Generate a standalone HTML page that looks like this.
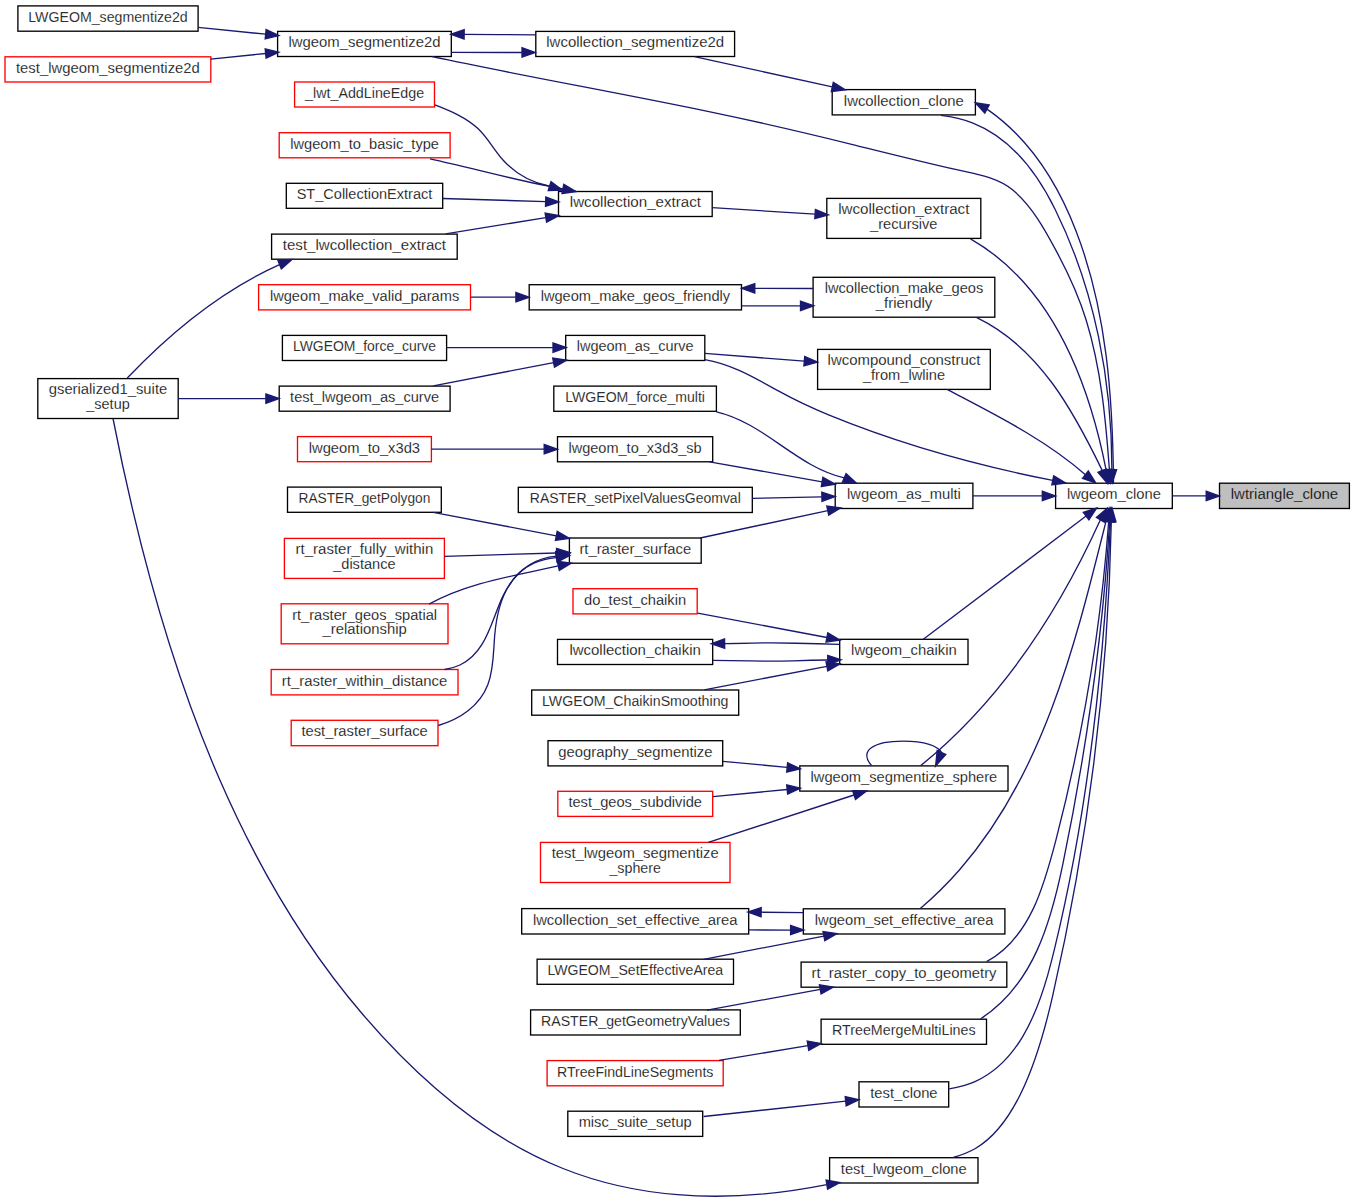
<!DOCTYPE html>
<html><head><meta charset="utf-8"><title>lwtriangle_clone caller graph</title>
<style>
html,body{margin:0;padding:0;background:#fff;}
svg{display:block;}
text{font-family:"Liberation Sans",sans-serif;font-size:14.0px;text-anchor:middle;fill:#000;stroke:#fff;stroke-width:0.35px;stroke-opacity:0.6;}
.e path{fill:none;stroke:#191970;stroke-width:1.33;}
.e polygon{fill:#191970;stroke:#191970;stroke-width:1.33;}
.n rect{stroke-width:1.33;}
</style></head><body>
<svg width="1355" height="1199" viewBox="0 0 1355 1199">
<rect x="0" y="0" width="1355" height="1199" fill="#fff"/>
<g class="n">
<rect x="17.9" y="5.9" width="180.2" height="25.3" fill="#ffffff" stroke="#000000"/>
<text x="108.0" y="21.9" textLength="159.5" lengthAdjust="spacingAndGlyphs">LWGEOM_segmentize2d</text>
<rect x="5.0" y="56.8" width="205.8" height="25.2" fill="#ffffff" stroke="#ff0000"/>
<text x="107.9" y="72.8" textLength="183.8" lengthAdjust="spacingAndGlyphs">test_lwgeom_segmentize2d</text>
<rect x="37.8" y="378.6" width="140.4" height="39.9" fill="#ffffff" stroke="#000000"/>
<text x="108.0" y="394.4" textLength="118.5" lengthAdjust="spacingAndGlyphs">gserialized1_suite</text>
<text x="108.0" y="408.9" textLength="43.5" lengthAdjust="spacingAndGlyphs">_setup</text>
<rect x="277.6" y="31.4" width="173.7" height="25.1" fill="#ffffff" stroke="#000000"/>
<text x="364.5" y="47.4" textLength="151.9" lengthAdjust="spacingAndGlyphs">lwgeom_segmentize2d</text>
<rect x="294.6" y="82.0" width="139.9" height="25.0" fill="#ffffff" stroke="#ff0000"/>
<text x="364.6" y="97.9" textLength="119.1" lengthAdjust="spacingAndGlyphs">_lwt_AddLineEdge</text>
<rect x="279.2" y="132.7" width="170.9" height="25.1" fill="#ffffff" stroke="#ff0000"/>
<text x="364.6" y="148.7" textLength="148.7" lengthAdjust="spacingAndGlyphs">lwgeom_to_basic_type</text>
<rect x="286.3" y="183.3" width="156.4" height="25.0" fill="#ffffff" stroke="#000000"/>
<text x="364.5" y="199.2" textLength="135.6" lengthAdjust="spacingAndGlyphs">ST_CollectionExtract</text>
<rect x="271.6" y="234.1" width="185.6" height="25.1" fill="#ffffff" stroke="#000000"/>
<text x="364.4" y="250.0" textLength="163.2" lengthAdjust="spacingAndGlyphs">test_lwcollection_extract</text>
<rect x="258.6" y="284.7" width="211.9" height="25.2" fill="#ffffff" stroke="#ff0000"/>
<text x="364.6" y="300.7" textLength="189.3" lengthAdjust="spacingAndGlyphs">lwgeom_make_valid_params</text>
<rect x="282.4" y="335.4" width="164.2" height="25.1" fill="#ffffff" stroke="#000000"/>
<text x="364.5" y="351.3" textLength="143.0" lengthAdjust="spacingAndGlyphs">LWGEOM_force_curve</text>
<rect x="279.2" y="386.1" width="170.9" height="25.1" fill="#ffffff" stroke="#000000"/>
<text x="364.6" y="402.0" textLength="149.0" lengthAdjust="spacingAndGlyphs">test_lwgeom_as_curve</text>
<rect x="297.5" y="436.6" width="133.9" height="25.1" fill="#ffffff" stroke="#ff0000"/>
<text x="364.4" y="452.5" textLength="111.3" lengthAdjust="spacingAndGlyphs">lwgeom_to_x3d3</text>
<rect x="287.5" y="487.1" width="153.8" height="25.2" fill="#ffffff" stroke="#000000"/>
<text x="364.4" y="503.1" textLength="131.8" lengthAdjust="spacingAndGlyphs">RASTER_getPolygon</text>
<rect x="284.4" y="538.4" width="160.0" height="40.0" fill="#ffffff" stroke="#ff0000"/>
<text x="364.4" y="554.3" textLength="137.7" lengthAdjust="spacingAndGlyphs">rt_raster_fully_within</text>
<text x="364.4" y="568.7" textLength="62.5" lengthAdjust="spacingAndGlyphs">_distance</text>
<rect x="281.2" y="603.8" width="166.8" height="40.0" fill="#ffffff" stroke="#ff0000"/>
<text x="364.6" y="619.7" textLength="144.9" lengthAdjust="spacingAndGlyphs">rt_raster_geos_spatial</text>
<text x="364.6" y="634.1" textLength="84.2" lengthAdjust="spacingAndGlyphs">_relationship</text>
<rect x="271.2" y="669.5" width="186.8" height="25.4" fill="#ffffff" stroke="#ff0000"/>
<text x="364.6" y="685.6" textLength="165.5" lengthAdjust="spacingAndGlyphs">rt_raster_within_distance</text>
<rect x="291.2" y="720.3" width="146.8" height="25.4" fill="#ffffff" stroke="#ff0000"/>
<text x="364.6" y="736.4" textLength="126.4" lengthAdjust="spacingAndGlyphs">test_raster_surface</text>
<rect x="535.8" y="31.4" width="198.8" height="25.1" fill="#ffffff" stroke="#000000"/>
<text x="635.2" y="47.4" textLength="177.8" lengthAdjust="spacingAndGlyphs">lwcollection_segmentize2d</text>
<rect x="558.5" y="191.5" width="153.7" height="25.0" fill="#ffffff" stroke="#000000"/>
<text x="635.4" y="207.4" textLength="131.2" lengthAdjust="spacingAndGlyphs">lwcollection_extract</text>
<rect x="529.2" y="284.7" width="212.3" height="25.2" fill="#ffffff" stroke="#000000"/>
<text x="635.4" y="300.7" textLength="189.5" lengthAdjust="spacingAndGlyphs">lwgeom_make_geos_friendly</text>
<rect x="565.7" y="335.4" width="139.1" height="25.1" fill="#ffffff" stroke="#000000"/>
<text x="635.2" y="351.3" textLength="117.0" lengthAdjust="spacingAndGlyphs">lwgeom_as_curve</text>
<rect x="553.8" y="386.1" width="162.6" height="25.2" fill="#ffffff" stroke="#000000"/>
<text x="635.1" y="402.1" textLength="139.7" lengthAdjust="spacingAndGlyphs">LWGEOM_force_multi</text>
<rect x="557.5" y="436.7" width="155.2" height="25.1" fill="#ffffff" stroke="#000000"/>
<text x="635.1" y="452.6" textLength="133.2" lengthAdjust="spacingAndGlyphs">lwgeom_to_x3d3_sb</text>
<rect x="518.3" y="487.3" width="234.0" height="25.2" fill="#ffffff" stroke="#000000"/>
<text x="635.3" y="503.3" textLength="210.9" lengthAdjust="spacingAndGlyphs">RASTER_setPixelValuesGeomval</text>
<rect x="569.4" y="538.0" width="131.8" height="25.2" fill="#ffffff" stroke="#000000"/>
<text x="635.3" y="554.0" textLength="111.7" lengthAdjust="spacingAndGlyphs">rt_raster_surface</text>
<rect x="573.0" y="588.7" width="124.2" height="25.2" fill="#ffffff" stroke="#ff0000"/>
<text x="635.1" y="604.7" textLength="102.1" lengthAdjust="spacingAndGlyphs">do_test_chaikin</text>
<rect x="557.5" y="639.4" width="155.2" height="25.1" fill="#ffffff" stroke="#000000"/>
<text x="635.1" y="655.4" textLength="131.4" lengthAdjust="spacingAndGlyphs">lwcollection_chaikin</text>
<rect x="531.7" y="690.0" width="207.0" height="25.2" fill="#ffffff" stroke="#000000"/>
<text x="635.2" y="706.0" textLength="186.5" lengthAdjust="spacingAndGlyphs">LWGEOM_ChaikinSmoothing</text>
<rect x="548.0" y="740.7" width="174.7" height="25.2" fill="#ffffff" stroke="#000000"/>
<text x="635.4" y="756.7" textLength="154.2" lengthAdjust="spacingAndGlyphs">geography_segmentize</text>
<rect x="557.8" y="791.3" width="154.9" height="25.1" fill="#ffffff" stroke="#ff0000"/>
<text x="635.2" y="807.2" textLength="133.6" lengthAdjust="spacingAndGlyphs">test_geos_subdivide</text>
<rect x="540.5" y="842.4" width="189.5" height="40.1" fill="#ffffff" stroke="#ff0000"/>
<text x="635.2" y="858.4" textLength="167.1" lengthAdjust="spacingAndGlyphs">test_lwgeom_segmentize</text>
<text x="635.2" y="872.8" textLength="51.6" lengthAdjust="spacingAndGlyphs">_sphere</text>
<rect x="521.7" y="908.6" width="227.0" height="25.4" fill="#ffffff" stroke="#000000"/>
<text x="635.2" y="924.7" textLength="204.6" lengthAdjust="spacingAndGlyphs">lwcollection_set_effective_area</text>
<rect x="537.1" y="959.2" width="196.4" height="25.1" fill="#ffffff" stroke="#000000"/>
<text x="635.3" y="975.1" textLength="175.8" lengthAdjust="spacingAndGlyphs">LWGEOM_SetEffectiveArea</text>
<rect x="530.6" y="1009.9" width="209.7" height="25.1" fill="#ffffff" stroke="#000000"/>
<text x="635.5" y="1025.9" textLength="188.8" lengthAdjust="spacingAndGlyphs">RASTER_getGeometryValues</text>
<rect x="547.1" y="1060.6" width="176.1" height="25.2" fill="#ffffff" stroke="#ff0000"/>
<text x="635.2" y="1076.6" textLength="156.5" lengthAdjust="spacingAndGlyphs">RTreeFindLineSegments</text>
<rect x="567.8" y="1111.2" width="134.9" height="25.2" fill="#ffffff" stroke="#000000"/>
<text x="635.2" y="1127.2" textLength="113.0" lengthAdjust="spacingAndGlyphs">misc_suite_setup</text>
<rect x="832.2" y="89.6" width="143.2" height="25.3" fill="#ffffff" stroke="#000000"/>
<text x="903.8" y="105.7" textLength="119.9" lengthAdjust="spacingAndGlyphs">lwcollection_clone</text>
<rect x="826.8" y="198.4" width="154.0" height="40.0" fill="#ffffff" stroke="#000000"/>
<text x="903.8" y="214.3" textLength="131.2" lengthAdjust="spacingAndGlyphs">lwcollection_extract</text>
<text x="903.8" y="228.7" textLength="67.4" lengthAdjust="spacingAndGlyphs">_recursive</text>
<rect x="813.1" y="277.3" width="181.7" height="39.9" fill="#ffffff" stroke="#000000"/>
<text x="904.0" y="293.1" textLength="158.7" lengthAdjust="spacingAndGlyphs">lwcollection_make_geos</text>
<text x="904.0" y="307.6" textLength="56.7" lengthAdjust="spacingAndGlyphs">_friendly</text>
<rect x="817.6" y="349.4" width="172.7" height="40.0" fill="#ffffff" stroke="#000000"/>
<text x="904.0" y="365.3" textLength="152.8" lengthAdjust="spacingAndGlyphs">lwcompound_construct</text>
<text x="904.0" y="379.7" textLength="82.2" lengthAdjust="spacingAndGlyphs">_from_lwline</text>
<rect x="835.2" y="483.2" width="137.7" height="25.3" fill="#ffffff" stroke="#000000"/>
<text x="904.0" y="499.2" textLength="113.8" lengthAdjust="spacingAndGlyphs">lwgeom_as_multi</text>
<rect x="839.7" y="639.3" width="128.3" height="25.2" fill="#ffffff" stroke="#000000"/>
<text x="903.9" y="655.3" textLength="105.6" lengthAdjust="spacingAndGlyphs">lwgeom_chaikin</text>
<rect x="799.8" y="765.9" width="208.2" height="25.2" fill="#ffffff" stroke="#000000"/>
<text x="903.9" y="781.9" textLength="186.7" lengthAdjust="spacingAndGlyphs">lwgeom_segmentize_sphere</text>
<rect x="803.3" y="908.8" width="201.6" height="25.2" fill="#ffffff" stroke="#000000"/>
<text x="904.1" y="924.8" textLength="178.7" lengthAdjust="spacingAndGlyphs">lwgeom_set_effective_area</text>
<rect x="801.1" y="962.1" width="205.7" height="25.1" fill="#ffffff" stroke="#000000"/>
<text x="904.0" y="978.1" textLength="184.9" lengthAdjust="spacingAndGlyphs">rt_raster_copy_to_geometry</text>
<rect x="821.1" y="1019.2" width="165.4" height="25.1" fill="#ffffff" stroke="#000000"/>
<text x="903.8" y="1035.2" textLength="143.6" lengthAdjust="spacingAndGlyphs">RTreeMergeMultiLines</text>
<rect x="859.0" y="1081.8" width="89.7" height="25.2" fill="#ffffff" stroke="#000000"/>
<text x="903.9" y="1097.8" textLength="67.4" lengthAdjust="spacingAndGlyphs">test_clone</text>
<rect x="829.6" y="1157.7" width="148.4" height="25.3" fill="#ffffff" stroke="#000000"/>
<text x="903.8" y="1173.8" textLength="125.9" lengthAdjust="spacingAndGlyphs">test_lwgeom_clone</text>
<rect x="1055.6" y="483.2" width="116.7" height="25.3" fill="#ffffff" stroke="#000000"/>
<text x="1113.9" y="499.2" textLength="94.0" lengthAdjust="spacingAndGlyphs">lwgeom_clone</text>
<rect x="1219.5" y="483.2" width="129.9" height="25.3" fill="#bfbfbf" stroke="#000000"/>
<text x="1284.5" y="499.2" textLength="107.4" lengthAdjust="spacingAndGlyphs" style="stroke:#bfbfbf">lwtriangle_clone</text>
</g>
<g class="e">
<path d="M198.1,27.3 L265.6,34.2"/>
<polygon points="265.2,38.9 278.9,35.6 266.1,29.6"/>
<path d="M210.7,59.1 L265.6,53.5"/>
<polygon points="266.1,58.2 278.9,52.2 265.2,48.9"/>
<path d="M451.5,52.3 L522.0,52.5"/>
<polygon points="522.0,57.1 535.3,52.5 522.0,47.8"/>
<path d="M535.3,34.9 C488.0,34.5 511.8,34.7 464.1,34.4"/>
<polygon points="464.2,29.7 450.8,34.3 464.1,39.1"/>
<path d="M694.4,56.7 L832.3,86.9"/>
<polygon points="831.3,91.5 845.3,89.8 833.3,82.4"/>
<path d="M432.2,56.7 C523.4,76.0 615.2,92.2 706.5,111.1 C755.8,121.3 804.8,132.7 853.7,144.8 C888.0,153.3 922.3,161.9 956.7,169.7 C975.8,174.0 997.3,177.1 1012.8,190.0 C1032.0,206.1 1044.9,229.6 1056.5,251.4 C1068.4,273.6 1078.9,296.4 1086.3,320.5 C1101.1,368.9 1105.7,419.5 1109.4,469.7"/>
<polygon points="1104.7,470.0 1110.3,483.0 1114.0,469.4"/>
<path d="M940.9,115.4 C951.9,116.7 962.7,119.0 973.0,123.1 C1011.9,138.4 1037.5,173.5 1055.3,209.7 C1094.8,289.8 1112.0,380.9 1111.9,469.7"/>
<polygon points="1107.2,469.8 1112.2,483.0 1116.6,469.6"/>
<path d="M1113.5,483.0 C1112.8,398.3 1106.9,311.2 1076.2,231.4 C1057.8,183.4 1029.9,138.7 987.0,109.1"/>
<polygon points="989.2,104.9 975.2,102.8 984.8,113.2"/>
<path d="M435.0,104.9 C450.3,110.9 466.1,117.3 478.2,128.8 C487.9,138.0 494.1,150.1 503.0,160.0 C515.4,173.8 531.5,182.6 549.6,186.2"/>
<polygon points="548.2,190.6 562.3,190.2 551.0,181.7"/>
<path d="M430.0,158.8 C474.4,168.5 518.1,181.0 562.9,188.9"/>
<polygon points="562.0,193.5 576.0,191.5 563.8,184.3"/>
<path d="M442.8,198.5 L545.7,201.6"/>
<polygon points="545.5,206.3 559.0,202.0 545.8,196.9"/>
<path d="M445.6,233.9 L545.8,217.6"/>
<polygon points="546.6,222.2 559.0,215.5 545.1,213.0"/>
<path d="M712.2,207.7 L815.1,214.1"/>
<polygon points="814.8,218.7 828.4,214.9 815.4,209.4"/>
<path d="M970.5,238.8 C1052.4,285.8 1088.7,381.8 1106.1,469.9"/>
<polygon points="1101.5,470.8 1108.6,483.0 1110.7,469.0"/>
<path d="M127.3,378.0 C171.1,331.9 221.2,290.8 279.5,264.6"/>
<polygon points="281.3,268.9 291.9,259.6 277.8,260.2"/>
<path d="M470.5,297.2 L515.9,297.2"/>
<polygon points="515.9,301.9 529.2,297.2 515.9,292.5"/>
<path d="M741.5,305.9 L800.5,305.8"/>
<polygon points="800.5,310.5 813.8,305.8 800.5,301.1"/>
<path d="M813.1,288.5 L754.8,288.3"/>
<polygon points="754.8,283.7 741.5,288.3 754.8,293.0"/>
<path d="M976.8,317.6 C1039.1,347.5 1073.5,411.1 1102.3,470.6"/>
<polygon points="1098.0,472.3 1107.2,483.0 1106.6,468.9"/>
<path d="M446.6,347.6 L553.0,347.6"/>
<polygon points="553.0,352.3 566.3,347.6 553.0,342.9"/>
<path d="M433.3,385.9 L553.6,362.6"/>
<polygon points="554.5,367.2 566.7,360.1 552.7,358.0"/>
<path d="M178.2,398.6 L265.9,398.6"/>
<polygon points="265.9,403.3 279.2,398.6 265.9,393.9"/>
<path d="M704.8,353.4 L804.3,361.2"/>
<polygon points="803.9,365.8 817.6,362.2 804.7,356.5"/>
<path d="M704.8,359.6 C731.9,364.1 755.1,378.1 778.8,391.2 C795.1,400.2 812.0,408.1 829.2,415.2 C901.1,444.6 976.6,465.5 1052.7,480.4"/>
<polygon points="1051.8,484.9 1065.8,483.0 1053.7,475.8"/>
<path d="M947.0,389.4 C994.9,414.7 1044.3,438.7 1085.4,474.7"/>
<polygon points="1082.5,478.4 1095.8,483.0 1088.3,471.0"/>
<path d="M716.4,411.8 C764.5,422.8 796.2,466.8 844.3,477.9"/>
<polygon points="842.4,482.2 856.5,483.2 846.1,473.6"/>
<path d="M431.4,449.2 L544.2,449.2"/>
<polygon points="544.2,453.9 557.5,449.2 544.2,444.5"/>
<path d="M709.5,461.8 L822.1,481.9"/>
<polygon points="821.3,486.5 835.2,484.2 822.9,477.3"/>
<path d="M752.3,498.3 L821.9,496.9"/>
<polygon points="822.0,501.5 835.2,496.6 821.8,492.2"/>
<path d="M700.2,538.0 L827.8,510.6"/>
<polygon points="828.7,515.2 840.8,507.8 826.8,506.0"/>
<path d="M972.9,495.9 L1042.3,495.9"/>
<polygon points="1042.3,500.6 1055.6,495.9 1042.3,491.2"/>
<path d="M433.3,512.3 L556.3,535.8"/>
<polygon points="555.4,540.4 569.4,538.3 557.2,531.2"/>
<path d="M444.4,556.3 L556.7,553.0"/>
<polygon points="556.8,557.7 570.0,552.6 556.5,548.3"/>
<path d="M429.0,604.2 C469.0,582.3 514.4,575.9 558.3,565.9"/>
<polygon points="559.3,570.5 571.3,563.1 557.3,561.3"/>
<path d="M444.7,669.5 C450.0,668.6 455.1,667.3 459.9,665.0 C486.8,652.5 491.5,619.4 503.3,595.4 C514.0,573.5 531.8,558.3 556.5,556.1"/>
<polygon points="557.5,560.7 569.6,553.4 555.6,551.5"/>
<path d="M438.3,725.5 C459.7,719.3 479.7,706.2 487.9,684.6 C494.0,668.7 493.3,651.0 494.8,634.3 C497.3,606.5 506.8,575.2 534.4,562.9 C541.4,559.8 548.8,558.3 556.4,557.6"/>
<polygon points="557.1,562.2 569.6,555.6 555.7,553.0"/>
<path d="M697.7,613.1 L826.9,637.5"/>
<polygon points="826.0,642.1 840.0,640.0 827.8,632.9"/>
<path d="M839.4,644.4 C756.7,642.4 794.9,642.4 724.6,643.6"/>
<polygon points="724.6,638.9 711.3,643.8 724.7,648.3"/>
<path d="M713.0,660.3 C791.1,661.5 752.8,661.6 827.8,660.0"/>
<polygon points="827.9,664.7 841.1,659.7 827.7,655.3"/>
<path d="M704.2,689.8 L826.9,666.3"/>
<polygon points="827.8,670.9 840.0,663.8 826.0,661.7"/>
<path d="M923.3,639.3 L1086.1,516.0"/>
<polygon points="1088.9,519.8 1096.7,508.0 1083.3,512.3"/>
<path d="M723.0,761.3 L787.1,767.4"/>
<polygon points="786.7,772.1 800.4,768.7 787.6,762.8"/>
<path d="M713.0,796.7 L787.1,789.5"/>
<polygon points="787.6,794.1 800.4,788.2 786.7,784.8"/>
<path d="M708.3,842.4 L854.0,795.0"/>
<polygon points="855.5,799.5 866.7,790.9 852.6,790.6"/>
<path d="M871.5,765.5 C858,750 875,741.2 902.8,741.2 C925,741.2 938,746 941.5,752.5"/>
<polygon points="937.2,750.6 935.6,766.0 945.8,754.4"/>
<path d="M920.6,765.7 C1000.8,700.7 1058.1,613.0 1100.4,519.8"/>
<polygon points="1104.4,522.2 1107.2,508.3 1096.4,517.4"/>
<path d="M748.4,929.9 L790.6,930.1"/>
<polygon points="790.6,934.7 803.9,930.1 790.6,925.4"/>
<path d="M803.3,912.7 L761.1,912.2"/>
<polygon points="761.2,907.6 747.8,912.1 761.1,916.9"/>
<path d="M703.5,959.4 L823.9,936.1"/>
<polygon points="824.8,940.7 837.0,933.6 823.0,931.5"/>
<path d="M920.0,908.8 C934.1,896.7 947.4,883.7 959.6,869.7 C1044.3,772.8 1075.5,643.0 1106.0,521.3"/>
<polygon points="1110.6,522.3 1109.0,508.3 1101.5,520.3"/>
<path d="M707.1,1010.1 L820.3,989.4"/>
<polygon points="821.1,994.0 833.4,987.0 819.4,984.8"/>
<path d="M986.6,961.7 C1030.4,937.9 1044.5,884.1 1056.1,839.3 C1083.1,735.1 1100.7,628.9 1108.7,521.5"/>
<polygon points="1113.3,522.1 1110.2,508.3 1104.0,521.0"/>
<path d="M719.0,1060.3 L807.9,1045.7"/>
<polygon points="808.7,1050.3 821.1,1043.5 807.2,1041.1"/>
<path d="M980.6,1018.8 C1033.3,985.0 1051.0,921.8 1062.9,863.9 C1086.2,751.2 1102.6,636.5 1109.7,521.6"/>
<polygon points="1114.3,522.0 1110.9,508.3 1105.0,521.1"/>
<path d="M703.6,1116.5 L845.7,1101.2"/>
<polygon points="846.2,1105.9 859.0,1099.8 845.2,1096.6"/>
<path d="M949.2,1088.9 C958.3,1087.4 967.0,1085.3 975.5,1081.4 C1016.8,1062.5 1036.0,1016.1 1047.7,975.1 C1050.1,966.6 1052.3,958.0 1054.4,949.4 C1088.5,809.2 1104.0,665.5 1110.5,521.6"/>
<polygon points="1115.1,521.9 1111.5,508.3 1105.8,521.2"/>
<path d="M113.0,418.5 C137.0,541.2 169.1,663.0 219.0,778.0 C255.7,862.6 302.3,943.7 362.4,1014.0 C417.1,1078.0 484.0,1136.9 563.0,1168.5 C599.5,1183.1 638.3,1191.5 677.5,1194.7 C727.6,1198.9 777.6,1194.4 826.8,1184.6"/>
<polygon points="827.6,1189.2 840.0,1182.5 826.1,1180.0"/>
<path d="M953.2,1157.5 C961.0,1155.2 968.4,1152.6 975.4,1148.5 C996.6,1136.1 1010.3,1115.0 1020.8,1093.5 C1035.9,1062.7 1045.0,1029.5 1052.6,996.2 C1088.1,840.7 1108.2,681.1 1111.3,521.6"/>
<polygon points="1116.0,521.9 1112.1,508.3 1106.7,521.3"/>
<path d="M1172.3,495.9 L1206.2,495.9"/>
<polygon points="1206.2,500.6 1219.5,495.9 1206.2,491.2"/>
</g>
</svg>
</body></html>
